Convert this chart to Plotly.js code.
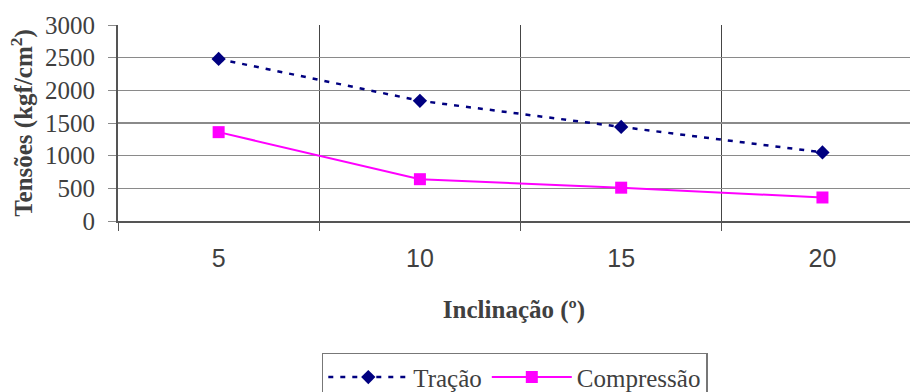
<!DOCTYPE html>
<html>
<head>
<meta charset="utf-8">
<script src="https://cdn.plot.ly/plotly-3.0.1.min.js"></script>
<style>
  html, body { margin: 0; padding: 0; background: #fff; overflow: hidden; }
  #chart { width: 910px; height: 392px; }
</style>
</head>
<body>
<div id="chart"></div>
<script>
// Inclinação (º) categories
const inclinacao = ['5', '10', '15', '20'];
// Tensões (kgf/cm²)
const tracao = [2480, 1840, 1440, 1050];
const compressao = [1360, 640, 510, 360];

const serif = '"Liberation Serif", "Times New Roman", serif';
const sans = '"Liberation Sans", Arial, sans-serif';

const traces = [
  {
    name: 'Tração',
    x: inclinacao,
    y: tracao,
    type: 'scatter',
    mode: 'lines+markers',
    line: { color: '#000080', width: 2.5, dash: '5px,7px' },
    marker: { symbol: 'diamond', size: 11, color: '#000080' }
  },
  {
    name: 'Compressão',
    x: inclinacao,
    y: compressao,
    type: 'scatter',
    mode: 'lines+markers',
    line: { color: '#ff00ff', width: 2 },
    marker: { symbol: 'square', size: 12, color: '#ff00ff' }
  }
];

const layout = {
  width: 910,
  height: 392,
  margin: { l: 118, r: 0, t: 25, b: 171, autoexpand: false },
  paper_bgcolor: '#ffffff',
  plot_bgcolor: '#ffffff',
  showlegend: true,
  font: { family: serif, color: '#333333' },
  xaxis: {
    type: 'category',
    tickson: 'boundaries',
    range: [-0.5, 3.435],
    automargin: false,
    showgrid: true,
    gridcolor: '#454545',
    gridwidth: 1,
    showline: true,
    linecolor: '#555555',
    linewidth: 2,
    ticks: 'outside',
    ticklen: 8,
    tickcolor: '#555555',
    tickfont: { family: sans, size: 25, color: '#404040' },
    ticklabelstandoff: 14,
    zeroline: false,
    fixedrange: true,
    title: {
      text: '<b>Inclinação (º)</b>',
      font: { family: serif, size: 25, color: '#404040' },
      standoff: 29
    }
  },
  yaxis: {
    range: [0, 3000],
    tickvals: [0, 500, 1000, 1500, 2000, 2500, 3000],
    automargin: false,
    showgrid: true,
    gridcolor: '#8a8a8a',
    gridwidth: 1.5,
    showline: true,
    linecolor: '#555555',
    linewidth: 2,
    ticks: 'outside',
    ticklen: 8,
    tickcolor: '#8a8a8a',
    tickfont: { family: serif, size: 25, color: '#404040' },
    ticklabelstandoff: 8,
    zeroline: false,
    fixedrange: true,
    title: {
      text: '<b>Tensões (kgf/cm<sup>2</sup>)</b>',
      font: { family: serif, size: 25, color: '#404040' },
      standoff: 5
    }
  },
  legend: {
    orientation: 'h',
    xref: 'paper',
    x: 0.501,
    xanchor: 'center',
    yref: 'container',
    y: 0.1,
    yanchor: 'top',
    bgcolor: '#ffffff',
    bordercolor: '#777777',
    borderwidth: 1.5,
    itemwidth: 80,
    font: { family: serif, size: 25, color: '#404040' }
  }
};

Plotly.newPlot('chart', traces, layout, { displayModeBar: false, staticPlot: true });
</script>
</body>
</html>
